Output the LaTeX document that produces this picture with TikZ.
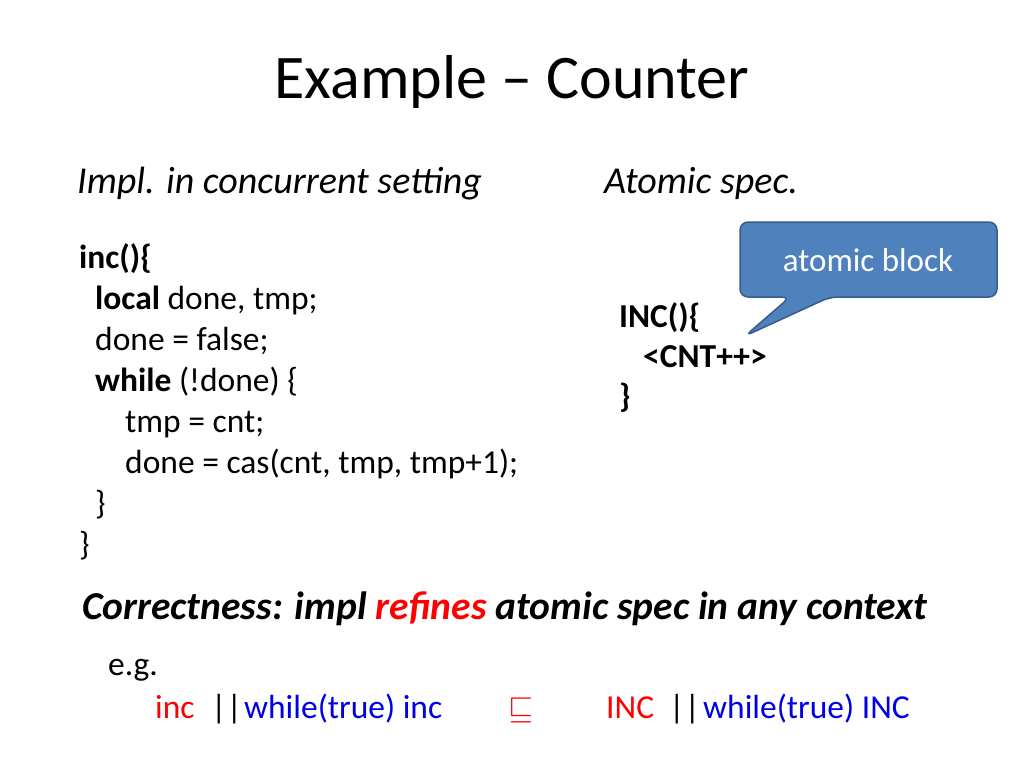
\documentclass[tikz,border=0pt]{standalone}
\usepackage{amssymb}
\usepackage{fontspec}
\setmainfont{Carlito}
\definecolor{calblue}{RGB}{79,129,189}
\definecolor{calborder}{RGB}{56,93,138}
\definecolor{myblue}{RGB}{0,0,230}
\begin{document}
\begin{tikzpicture}[x=1pt,y=-1pt,
  t/.style={anchor=base west,inner sep=0pt},
  code/.style={t,font=\fontsize{33.5}{38}\selectfont},
  head/.style={t,font=\fontsize{38}{44}\selectfont\itshape},
  bot/.style={t,font=\fontsize{33.5}{38}\selectfont}]
\useasboundingbox (0,0) rectangle (1024,768);
\node[anchor=base,inner sep=0pt,font=\fontsize{62}{70}\selectfont] (title) at (512,98) {Example – Counter};
\node[head] (h1) at (77,193) {Impl. in concurrent setting};
\node[head] (h2) at (604,193) {Atomic spec.};
\node[code] (c1) at (79,268) {\textbf{inc()\{}};
\node[code] (c2) at (95,309) {\textbf{local} done, tmp;};
\node[code] (c3) at (95,350) {done = false;};
\node[code] (c4) at (95,391) {\textbf{while} (!done) \{};
\node[code] (c5) at (125,432) {tmp = cnt;};
\node[code] (c6) at (125,473) {done = cas(cnt, tmp, tmp+1);};
\node[code] (c7) at (95,514) {\}};
\node[code] (c8) at (79,555) {\}};
\node[code] (a1) at (619,327) {\textbf{INC()\{}};
\node[code] (a2) at (643,367) {\textbf{<CNT++>}};
\node[code] (a3) at (619,407) {\textbf{\}}};
\coordinate (tip) at (745,336);
\draw[calborder,line width=1.5pt,fill=calblue,rounded corners=8pt]
  (740,222) -- (997,222) -- (997,297) -- (830,297) -- (tip) -- (790,297) -- (740,297) -- cycle;
\node[anchor=base,inner sep=0pt,text=white,font=\fontsize{33}{38}\selectfont] (cb) at (868,271) {atomic block};
\node[t,font=\fontsize{39.5}{44}\selectfont\bfseries\itshape] (corr) at (82,619) {Correctness: impl \textcolor{red}{refines} atomic spec in any context};
\node[bot] (eg) at (108,675) {e.g.};
\node[bot,text=red] (b1) at (155,718) {inc};
\node[bot] (b2) at (211,718) {||};
\node[bot,text=myblue] (b3) at (244,718) {while(true) inc};
\node[bot,text=red] (b4) at (508,718) {\scalebox{1.3}{$\sqsubseteq$}};
\node[bot,text=red] (b5) at (606,718) {INC};
\node[bot] (b6) at (669,718) {||};
\node[bot,text=myblue] (b7) at (703,718) {while(true) INC};
\end{tikzpicture}
\end{document}
